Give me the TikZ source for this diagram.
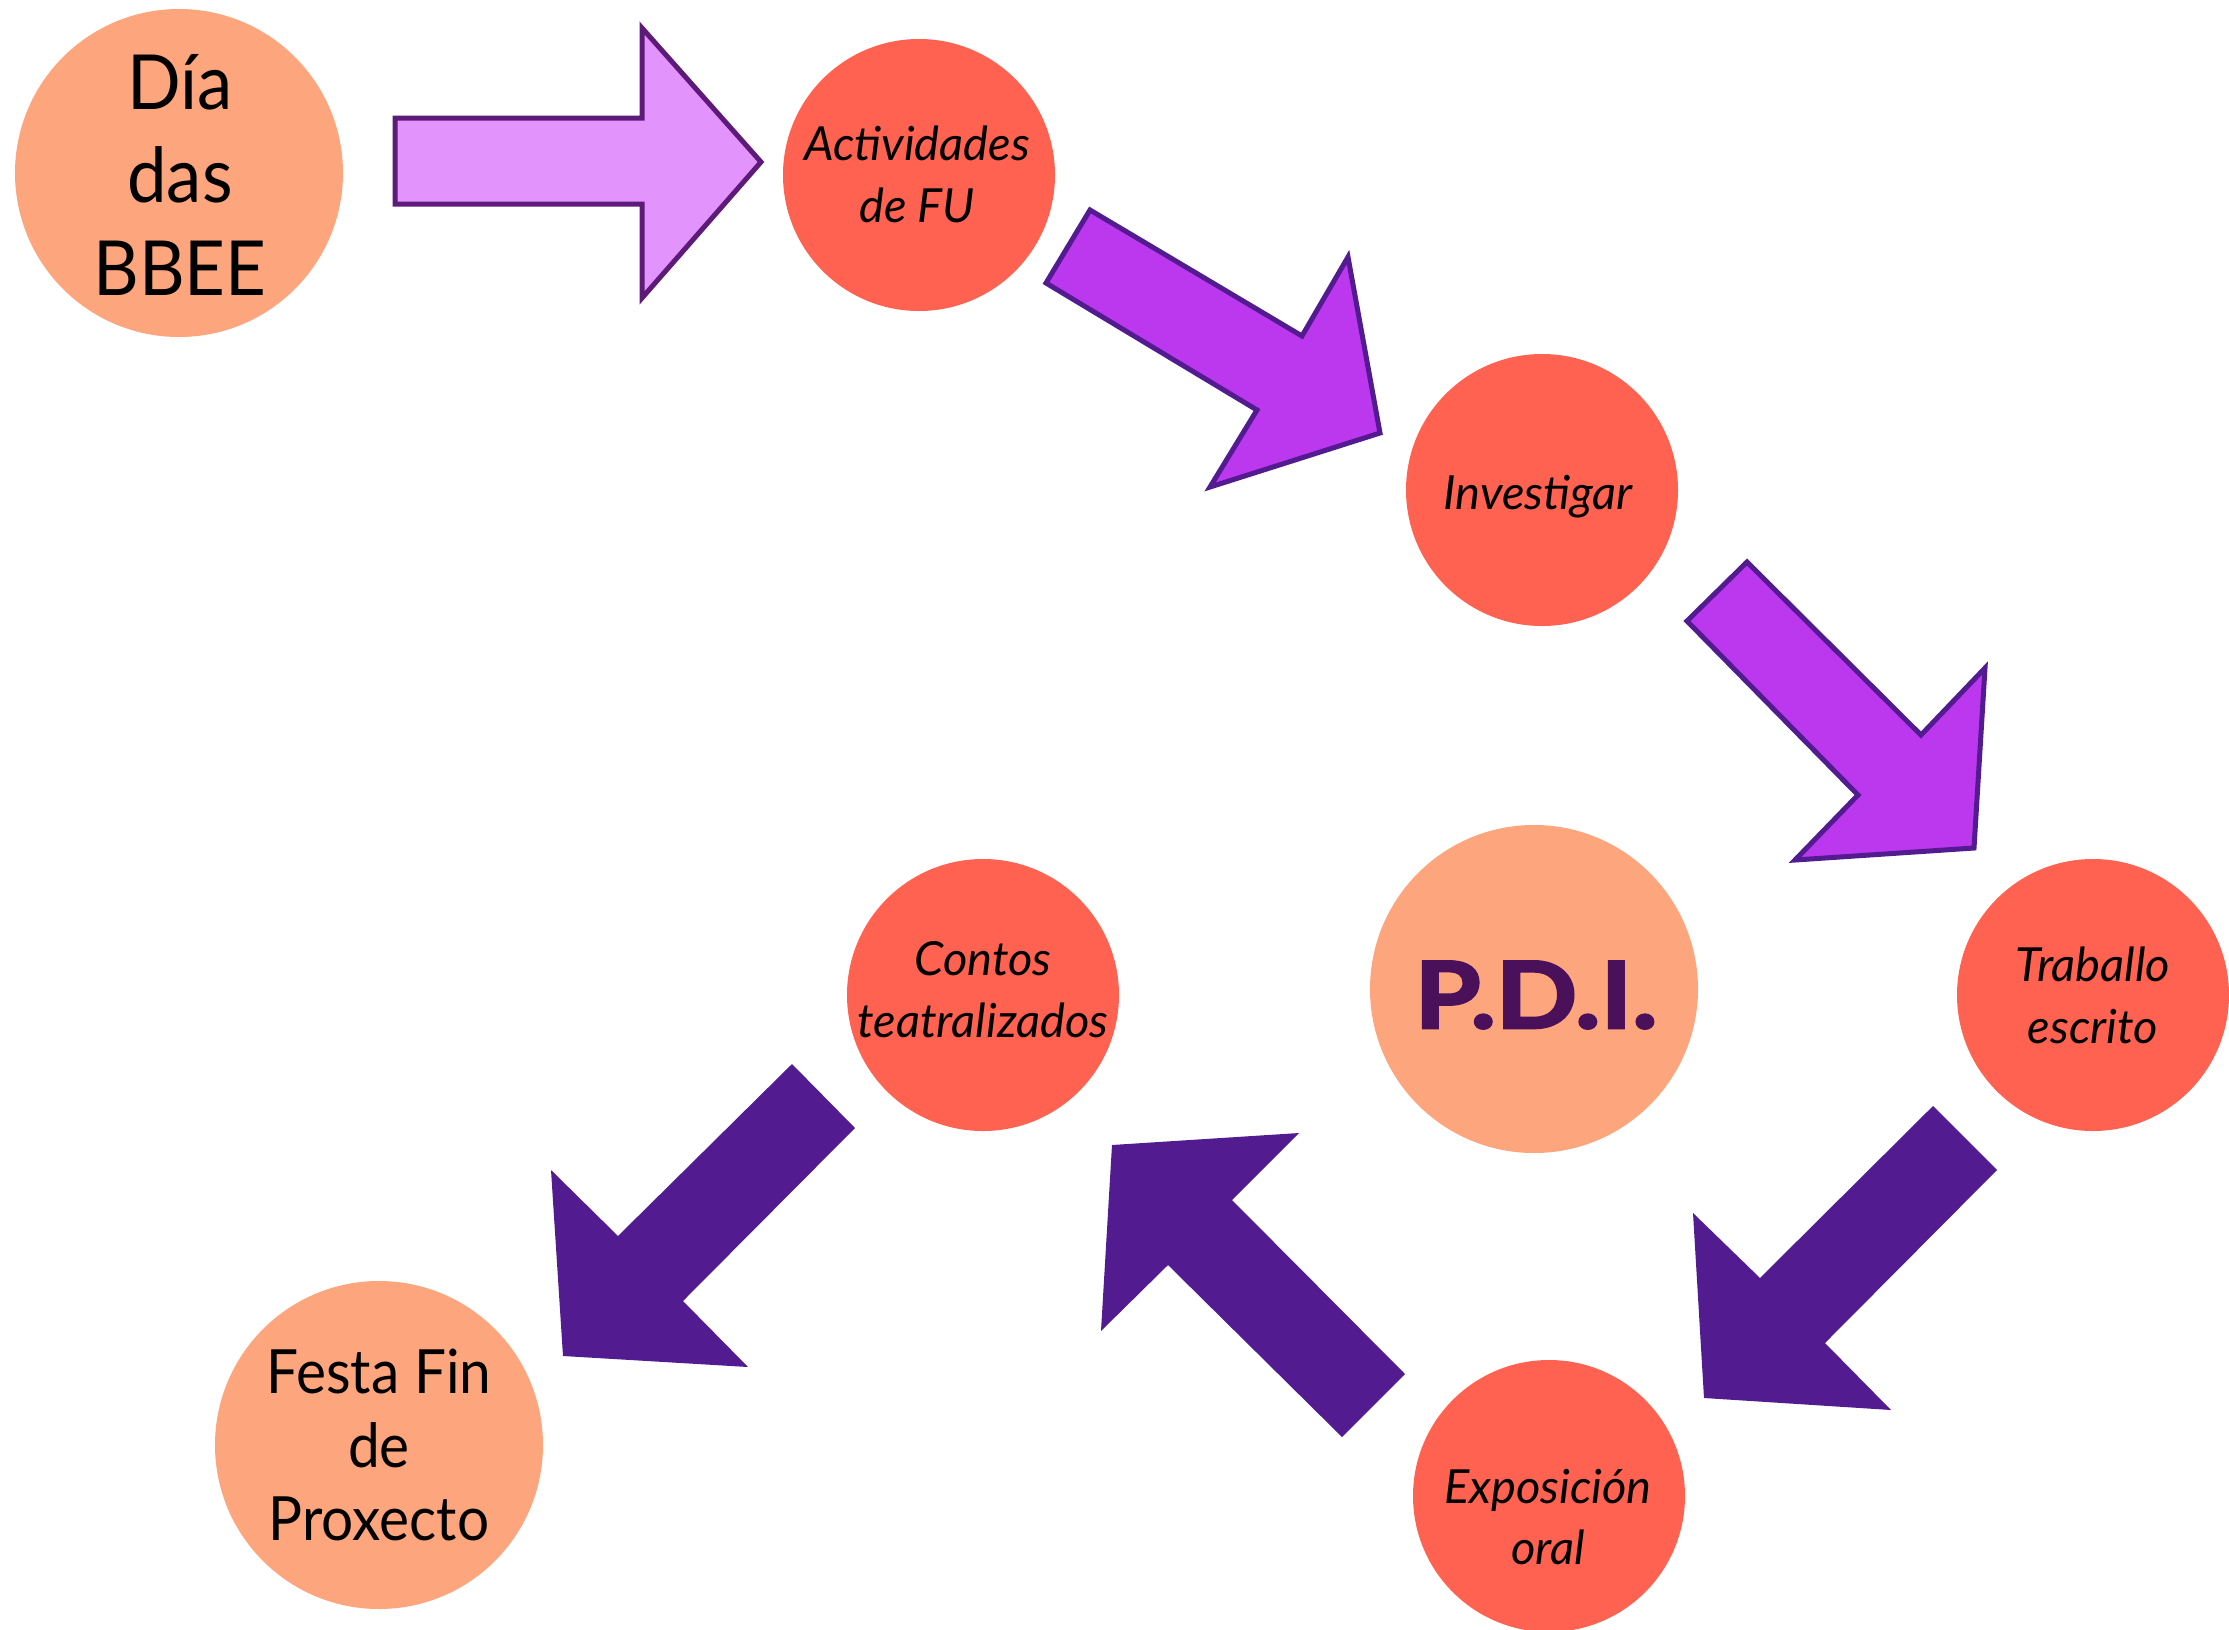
\documentclass[tikz,border=0pt]{standalone}
\usepackage{fontspec}
\setmainfont{Lato}[UprightFeatures={FakeStretch=0.93}]
\newfontfamily\pdifont[FakeBold=3, FakeStretch=1.16]{Lato}
\definecolor{peach}{HTML}{FDA57D}
\definecolor{coral}{HTML}{FF6250}
\definecolor{lviolet}{HTML}{E393FC}
\definecolor{mviolet}{HTML}{BC38EF}
\definecolor{dviolet}{HTML}{521B8F}
\definecolor{edgeA}{HTML}{5E1A78}
\definecolor{edgeB}{HTML}{531B90}
\definecolor{pditext}{HTML}{4A105A}
\begin{document}
\begin{tikzpicture}[x=0.5pt,y=-0.5pt,
  bigcirc/.style={circle, fill=peach, minimum size=164pt, inner sep=0pt},
  smallcirc/.style={circle, fill=coral, minimum size=136pt, inner sep=0pt},
  lbl/.style={align=center, inner sep=0pt, text=black},
  biglbl/.style={lbl, font=\fontsize{38}{46.5}\selectfont},
  midlbl/.style={lbl, font=\fontsize{30.5}{36.7}\selectfont},
  slbl/.style={lbl, font=\itshape\fontsize{23.5}{31}\selectfont},
  arrowA/.style={fill=lviolet, draw=edgeA, line width=2.5pt, line join=miter},
  arrowB/.style={fill=mviolet, draw=edgeB, line width=2.5pt, line join=miter},
  arrowC/.style={fill=dviolet, draw=none}]
\useasboundingbox (0,0) rectangle (2229,1629);

% circles
\node[bigcirc]   (c1) at (179,173)  {};
\node[smallcirc] (c2) at (919,175)  {};
\node[smallcirc] (c3) at (1542,490) {};
\node[bigcirc]   (c4) at (1534,989) {};
\node[smallcirc] (c5) at (2093,995) {};
\node[smallcirc] (c6) at (983,995)  {};
\node[smallcirc] (c7) at (1549,1496) {};
\node[bigcirc]   (c8) at (379,1445) {};

% texts
\node[biglbl] (t1) at (180,175) {Día\\das\\BBEE};
\node[slbl]   (t2) at (917,174) {Actividades\\de FU};
\node[slbl]   (t3) at (1538,497) {Investigar};
\node[lbl, text=pditext, font=\pdifont\bfseries\fontsize{46}{50}\selectfont] (t4) at (1536,995) {P.D.I.};
\node[slbl]   (t5) at (2093,995) {Traballo\\escrito};
\node[slbl]   (t6) at (983,990) {Contos\\teatralizados};
\node[slbl]   (t7) at (1548,1517) {Exposición\\oral};
\node[midlbl] (t8) at (379,1445) {Festa Fin\\de\\Proxecto};

% block arrows
\path[arrowA] (395,118) -- (642,118) -- (642,28) -- (761,162) -- (642,298) -- (642,204) -- (395,204) -- cycle;
\path[arrowB] (1090,210) -- (1302,336) -- (1348,257) -- (1380,433) -- (1210,487) -- (1257,410) -- (1046,283) -- cycle;
\path[arrowB] (1747,562) -- (1921,735) -- (1985,668) -- (1974,848) -- (1795,860) -- (1858,795) -- (1687,621) -- cycle;
\path[arrowC] (1933,1106) -- (1997,1170) -- (1825,1343) -- (1891,1410) -- (1704,1398) -- (1693,1213) -- (1760,1278) -- cycle;
\path[arrowC] (1405,1374) -- (1342,1437) -- (1168,1265) -- (1101,1331) -- (1112,1145) -- (1299,1133) -- (1232,1200) -- cycle;
\path[arrowC] (792,1064) -- (855,1128) -- (683,1301) -- (748,1367) -- (563,1356) -- (551,1170) -- (618,1236) -- cycle;
\end{tikzpicture}
\end{document}
